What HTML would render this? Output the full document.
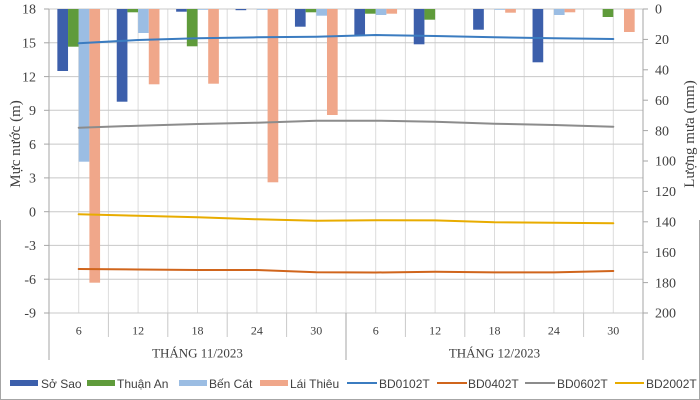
<!DOCTYPE html>
<html><head><meta charset="utf-8"><style>
html,body{margin:0;padding:0;background:#fff;}
svg{display:block;}
.ax{font-family:"Liberation Serif",serif;fill:#404040;}
.lg{font-family:"Liberation Sans",sans-serif;font-size:12px;fill:#404040;}
</style></head><body>
<svg width="700" height="400" viewBox="0 0 700 400" xmlns="http://www.w3.org/2000/svg">
<rect width="700" height="400" fill="#fff"/>
<!-- outer border (partial) -->
<path d="M0.5 220 V399.5 H699.5 V220" fill="none" stroke="#a6a6a6" stroke-width="1"/>
<!-- vertical gridlines -->
<g stroke="#dcdcdc" stroke-width="1">
<line x1="78.7" y1="9" x2="78.7" y2="313"/><line x1="108.4" y1="9" x2="108.4" y2="313"/>
<line x1="138.1" y1="9" x2="138.1" y2="313"/><line x1="167.8" y1="9" x2="167.8" y2="313"/>
<line x1="197.5" y1="9" x2="197.5" y2="313"/><line x1="227.2" y1="9" x2="227.2" y2="313"/>
<line x1="256.9" y1="9" x2="256.9" y2="313"/><line x1="286.6" y1="9" x2="286.6" y2="313"/>
<line x1="316.3" y1="9" x2="316.3" y2="313"/><line x1="346" y1="9" x2="346" y2="313"/>
<line x1="375.7" y1="9" x2="375.7" y2="313"/><line x1="405.4" y1="9" x2="405.4" y2="313"/>
<line x1="435.1" y1="9" x2="435.1" y2="313"/><line x1="464.8" y1="9" x2="464.8" y2="313"/>
<line x1="494.5" y1="9" x2="494.5" y2="313"/><line x1="524.2" y1="9" x2="524.2" y2="313"/>
<line x1="553.9" y1="9" x2="553.9" y2="313"/><line x1="583.6" y1="9" x2="583.6" y2="313"/>
<line x1="613.3" y1="9" x2="613.3" y2="313"/>
</g>
<!-- horizontal gridlines -->
<g stroke="#c8c8c8" stroke-width="1">
<line x1="49" y1="9" x2="643" y2="9"/><line x1="49" y1="42.8" x2="643" y2="42.8"/>
<line x1="49" y1="76.6" x2="643" y2="76.6"/><line x1="49" y1="110.3" x2="643" y2="110.3"/>
<line x1="49" y1="144.1" x2="643" y2="144.1"/><line x1="49" y1="177.9" x2="643" y2="177.9"/>
<line x1="49" y1="211.7" x2="643" y2="211.7"/><line x1="49" y1="245.4" x2="643" y2="245.4"/>
<line x1="49" y1="279.2" x2="643" y2="279.2"/><line x1="49" y1="313" x2="643" y2="313"/>
</g>
<!-- left ticks -->
<g stroke="#a6a6a6" stroke-width="1">
<line x1="44" y1="9" x2="49" y2="9"/><line x1="44" y1="42.8" x2="49" y2="42.8"/>
<line x1="44" y1="76.6" x2="49" y2="76.6"/><line x1="44" y1="110.3" x2="49" y2="110.3"/>
<line x1="44" y1="144.1" x2="49" y2="144.1"/><line x1="44" y1="177.9" x2="49" y2="177.9"/>
<line x1="44" y1="211.7" x2="49" y2="211.7"/><line x1="44" y1="245.4" x2="49" y2="245.4"/>
<line x1="44" y1="279.2" x2="49" y2="279.2"/><line x1="44" y1="313" x2="49" y2="313"/>
<!-- right ticks -->
<line x1="643" y1="9" x2="648" y2="9"/><line x1="643" y1="39.4" x2="648" y2="39.4"/>
<line x1="643" y1="69.8" x2="648" y2="69.8"/><line x1="643" y1="100.2" x2="648" y2="100.2"/>
<line x1="643" y1="130.6" x2="648" y2="130.6"/><line x1="643" y1="161" x2="648" y2="161"/>
<line x1="643" y1="191.4" x2="648" y2="191.4"/><line x1="643" y1="221.8" x2="648" y2="221.8"/>
<line x1="643" y1="252.2" x2="648" y2="252.2"/><line x1="643" y1="282.6" x2="648" y2="282.6"/>
<line x1="643" y1="313" x2="648" y2="313"/>
<!-- axes -->
<line x1="49" y1="9" x2="49" y2="360"/>
<line x1="643" y1="9" x2="643" y2="360"/>
<line x1="346" y1="313" x2="346" y2="360"/>
</g>
<!-- category ticks -->
<g stroke="#c8c8c8" stroke-width="1">
<line x1="108.4" y1="313" x2="108.4" y2="337"/><line x1="167.8" y1="313" x2="167.8" y2="337"/>
<line x1="227.2" y1="313" x2="227.2" y2="337"/><line x1="286.6" y1="313" x2="286.6" y2="337"/>
<line x1="405.4" y1="313" x2="405.4" y2="337"/><line x1="464.8" y1="313" x2="464.8" y2="337"/>
<line x1="524.2" y1="313" x2="524.2" y2="337"/><line x1="583.6" y1="313" x2="583.6" y2="337"/>
</g>
<!-- bars: Sở Sao -->
<g fill="#3c5fab">
<rect x="57.35" y="9" width="10.68" height="62"/>
<rect x="116.75" y="9" width="10.68" height="92.7"/>
<rect x="176.15" y="9" width="10.68" height="2.7"/>
<rect x="235.55" y="9" width="10.68" height="1.2"/>
<rect x="294.95" y="9" width="10.68" height="17.7"/>
<rect x="354.35" y="9" width="10.68" height="26"/>
<rect x="413.75" y="9" width="10.68" height="35.3"/>
<rect x="473.15" y="9" width="10.68" height="20.7"/>
<rect x="532.55" y="9" width="10.68" height="53.3"/>
</g>
<!-- Thuận An -->
<g fill="#5f9b3b">
<rect x="68.03" y="9" width="10.68" height="37.7"/>
<rect x="127.43" y="9" width="10.68" height="3.3"/>
<rect x="186.83" y="9" width="10.68" height="37.3"/>
<rect x="305.63" y="9" width="10.68" height="3.3"/>
<rect x="365.03" y="9" width="10.68" height="4.7"/>
<rect x="424.43" y="9" width="10.68" height="10.7"/>
<rect x="602.63" y="9" width="10.68" height="8"/>
</g>
<!-- Bến Cát -->
<g fill="#9bbde3">
<rect x="78.71" y="9" width="10.68" height="152.7"/>
<rect x="138.11" y="9" width="10.68" height="24"/>
<rect x="197.51" y="9" width="10.68" height="0.8"/>
<rect x="256.91" y="9" width="10.68" height="0.8"/>
<rect x="316.31" y="9" width="10.68" height="6.7"/>
<rect x="375.71" y="9" width="10.68" height="6"/>
<rect x="494.51" y="9" width="10.68" height="0.8"/>
<rect x="553.91" y="9" width="10.68" height="6"/>
</g>
<!-- Lái Thiêu -->
<g fill="#f0a78a">
<rect x="89.39" y="9" width="10.68" height="273.7"/>
<rect x="148.79" y="9" width="10.68" height="75.3"/>
<rect x="208.19" y="9" width="10.68" height="74.7"/>
<rect x="267.59" y="9" width="10.68" height="173.3"/>
<rect x="326.99" y="9" width="10.68" height="106"/>
<rect x="386.39" y="9" width="10.68" height="4.7"/>
<rect x="505.19" y="9" width="10.68" height="3.7"/>
<rect x="564.59" y="9" width="10.68" height="3.3"/>
<rect x="623.99" y="9" width="10.68" height="23"/>
</g>
<!-- lines -->
<g fill="none" stroke-width="2" stroke-linejoin="round" stroke-linecap="round">
<polyline stroke="#3b7cc0" points="78.7,43.3 138.1,40 197.5,38.3 256.9,37.3 316.3,36.8 375.7,35 435.1,36 494.5,37.3 553.9,38.3 613.3,39"/>
<polyline stroke="#d0651c" points="78.7,269 138.1,269.5 197.5,270 256.9,270 316.3,272.3 375.7,272.5 435.1,271.8 494.5,272.4 553.9,272.4 613.3,271"/>
<polyline stroke="#8c8c8c" points="78.7,127.7 138.1,125.7 197.5,124 256.9,122.7 316.3,120.7 375.7,120.7 435.1,121.7 494.5,123.7 553.9,125 613.3,126.7"/>
<polyline stroke="#e8ac00" points="78.7,214.3 138.1,215.7 197.5,217.3 256.9,219.3 316.3,220.7 375.7,220.2 435.1,220.4 494.5,222.3 553.9,222.7 613.3,223.3"/>
</g>
<!-- left axis labels -->
<g class="ax" font-size="14" text-anchor="end">
<text x="36" y="13.7">18</text><text x="36" y="47.5">15</text>
<text x="36" y="81.3">12</text><text x="36" y="115">9</text>
<text x="36" y="148.8">6</text><text x="36" y="182.6">3</text>
<text x="36" y="216.4">0</text><text x="36" y="250.1">-3</text>
<text x="36" y="283.9">-6</text><text x="36" y="317.7">-9</text>
</g>
<!-- right axis labels -->
<g class="ax" font-size="14">
<text x="655" y="13.7">0</text><text x="655" y="44.1">20</text>
<text x="655" y="74.5">40</text><text x="655" y="104.9">60</text>
<text x="655" y="135.3">80</text><text x="655" y="165.7">100</text>
<text x="655" y="196.1">120</text><text x="655" y="226.5">140</text>
<text x="655" y="256.9">160</text><text x="655" y="287.3">180</text>
<text x="655" y="317.7">200</text>
</g>
<!-- category labels -->
<g class="ax" font-size="12" text-anchor="middle">
<text x="78.7" y="334.5">6</text><text x="138.1" y="334.5">12</text>
<text x="197.5" y="334.5">18</text><text x="256.9" y="334.5">24</text>
<text x="316.3" y="334.5">30</text><text x="375.7" y="334.5">6</text>
<text x="435.1" y="334.5">12</text><text x="494.5" y="334.5">18</text>
<text x="553.9" y="334.5">24</text><text x="613.3" y="334.5">30</text>
</g>
<g class="ax" font-size="13" text-anchor="middle">
<text x="197.5" y="357.5">THÁNG 11/2023</text>
<text x="494.5" y="357.5">THÁNG 12/2023</text>
</g>
<!-- axis titles -->
<text class="ax" font-size="15" text-anchor="middle" transform="translate(20,144) rotate(-90)">Mực nước (m)</text>
<text class="ax" font-size="15" text-anchor="middle" transform="translate(694,134) rotate(-90)">Lượng mưa (mm)</text>
<!-- legend -->
<rect x="10" y="380" width="28" height="6" fill="#3c5fab"/>
<text class="lg" x="41" y="388">Sở Sao</text>
<rect x="87" y="380" width="28" height="6" fill="#5f9b3b"/>
<text class="lg" x="117" y="388">Thuận An</text>
<rect x="179" y="380" width="28" height="6" fill="#9bbde3"/>
<text class="lg" x="209" y="388">Bến Cát</text>
<rect x="260" y="380" width="28" height="6" fill="#f0a78a"/>
<text class="lg" x="290" y="388">Lái Thiêu</text>
<line x1="347" y1="383" x2="377" y2="383" stroke="#3b7cc0" stroke-width="2"/>
<text class="lg" x="379" y="388">BD0102T</text>
<line x1="437" y1="383" x2="467" y2="383" stroke="#d0651c" stroke-width="2"/>
<text class="lg" x="468" y="388">BD0402T</text>
<line x1="525" y1="383" x2="555" y2="383" stroke="#8c8c8c" stroke-width="2"/>
<text class="lg" x="557" y="388">BD0602T</text>
<line x1="615" y1="383" x2="644" y2="383" stroke="#e8ac00" stroke-width="2"/>
<text class="lg" x="646" y="388">BD2002T</text>
</svg>
</body></html>
